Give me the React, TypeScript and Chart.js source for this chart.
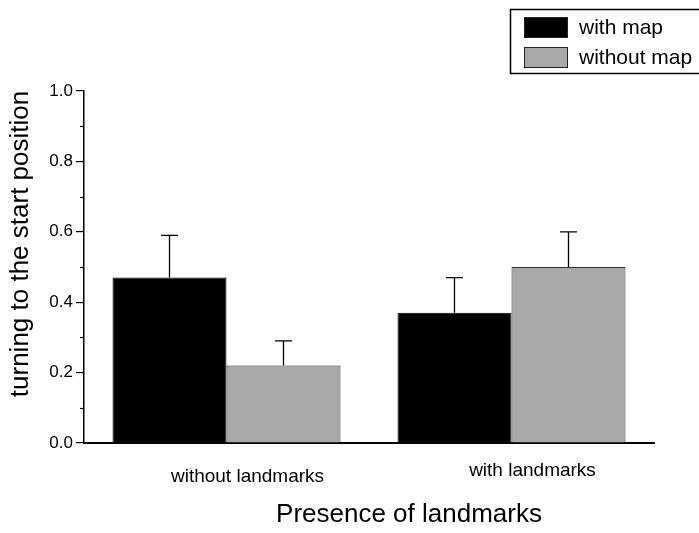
import React, { useEffect, useRef } from "react";
import { Chart, registerables } from "chart.js";

Chart.register(...registerables);

const categories = ["without landmarks", "with landmarks"];
const seriesNames = ["with map", "without map"];
const withMap = [0.47, 0.37];
const withoutMap = [0.22, 0.5];
const withMapErr = [0.12, 0.1];
const withoutMapErr = [0.07, 0.1];
const yTicks = [0, 0.2, 0.4, 0.6, 0.8, 1.0];
const yTitle = "turning to the start position";
const xTitle = "Presence of landmarks";

const FONT = "'Liberation Sans', Arial, Helvetica, sans-serif";

export default function App() {
  const ref = useRef<HTMLCanvasElement | null>(null);

  useEffect(() => {
    const canvas = ref.current;
    if (!canvas) return;
    const errs = [withMapErr, withoutMapErr];

    const errorBars = {
      id: "errorBars",
      afterDatasetsDraw(chart: any) {
        const ctx = chart.ctx;
        const y = chart.scales.y;
        ctx.save();
        ctx.strokeStyle = "#000";
        ctx.lineWidth = 1.3;
        chart.data.datasets.forEach((ds: any, di: number) => {
          const meta = chart.getDatasetMeta(di);
          meta.data.forEach((bar: any, i: number) => {
            const v = ds.data[i];
            const top = y.getPixelForValue(v + errs[di][i]);
            const x = bar.x;
            ctx.beginPath();
            ctx.moveTo(x, bar.y);
            ctx.lineTo(x, top);
            ctx.moveTo(x - 8.5, top);
            ctx.lineTo(x + 8.5, top);
            ctx.stroke();
          });
        });
        ctx.restore();
      },
    };

    const extras = {
      id: "extras",
      afterDraw(chart: any) {
        const ctx = chart.ctx;
        const y = chart.scales.y;
        const x = chart.scales.x;
        const area = chart.chartArea;
        ctx.save();
        // minor ticks
        ctx.strokeStyle = "#000";
        ctx.lineWidth = 1.2;
        for (let k = 0; k < yTicks.length - 1; k++) {
          const v = (yTicks[k] + yTicks[k + 1]) / 2;
          const py = Math.round(y.getPixelForValue(v)) + 0.5;
          ctx.beginPath();
          ctx.moveTo(area.left - 4, py);
          ctx.lineTo(area.left, py);
          ctx.stroke();
        }
        ctx.fillStyle = "#000";
        ctx.textAlign = "center";
        ctx.textBaseline = "middle";
        // category labels
        ctx.font = `19px ${FONT}`;
        const labelDy = [34, 28];
        categories.forEach((c, i) => {
          ctx.fillText(c, x.getPixelForValue(i) + 21, area.bottom + labelDy[i]);
        });
        // axis titles
        ctx.font = `26px ${FONT}`;
        ctx.save();
        ctx.translate(21, 244);
        ctx.rotate(-Math.PI / 2);
        ctx.fillText(yTitle, 0, 0);
        ctx.restore();
        ctx.font = `26px ${FONT}`;
        ctx.fillText(xTitle, 409, 515);
        // legend
        ctx.lineWidth = 1.5;
        ctx.strokeStyle = "#000";
        ctx.strokeRect(510.5, 9.5, 220, 64);
        const colors = ["#000000", "#a8a8a8"];
        ctx.font = `21px ${FONT}`;
        ctx.textAlign = "left";
        seriesNames.forEach((name, i) => {
          const by = 17 + i * 30;
          ctx.fillStyle = colors[i];
          ctx.fillRect(524, by, 44, 21);
          ctx.lineWidth = 1;
          ctx.strokeStyle = "#222";
          ctx.strokeRect(524.5, by + 0.5, 43, 20);
          ctx.fillStyle = "#000";
          ctx.fillText(name, 579, by + 11);
        });
        ctx.restore();
      },
    };

    const chart = new Chart(canvas, {
      type: "bar",
      data: {
        labels: categories,
        datasets: [
          {
            label: seriesNames[0],
            data: withMap,
            backgroundColor: "#000000",
            borderColor: "#000000",
            borderWidth: 1,
          },
          {
            label: seriesNames[1],
            data: withoutMap,
            backgroundColor: "#a8a8a8",
            borderColor: "#333333",
            borderWidth: 1,
          },
        ],
      },
      options: {
        animation: false,
        responsive: false,
        maintainAspectRatio: false,
        layout: { padding: { left: 0, right: 45, top: 91, bottom: 0 } },
        plugins: {
          legend: { display: false },
          tooltip: { enabled: false },
          title: { display: false },
        },
        datasets: {
          bar: { categoryPercentage: 0.8, barPercentage: 1.0 },
        },
        scales: {
          x: {
            type: "category",
            grid: { display: false, drawTicks: false },
            border: { display: true, color: "#000", width: 2 },
            ticks: { display: false },
            afterFit: (s: any) => {
              s.height = 90;
            },
          },
          y: {
            min: 0,
            max: 1,
            grid: {
              drawOnChartArea: false,
              drawTicks: true,
              tickLength: 8,
              color: "#000",
              lineWidth: 1.2,
            },
            border: { display: true, color: "#000", width: 1.5 },
            ticks: {
              stepSize: 0.2,
              color: "#000",
              font: { family: FONT, size: 17 },
              padding: 3,
              callback: (v: any) => Number(v).toFixed(1),
            },
            afterFit: (s: any) => {
              s.width = 84;
            },
          },
        },
      },
      plugins: [errorBars, extras],
    });

    return () => chart.destroy();
  }, []);

  return (
    <div style={{ position: "fixed", left: 0, top: 0, width: 699, height: 533, background: "#fff" }}>
      <canvas ref={ref} width={699} height={533} style={{ display: "block" }} />
    </div>
  );
}
